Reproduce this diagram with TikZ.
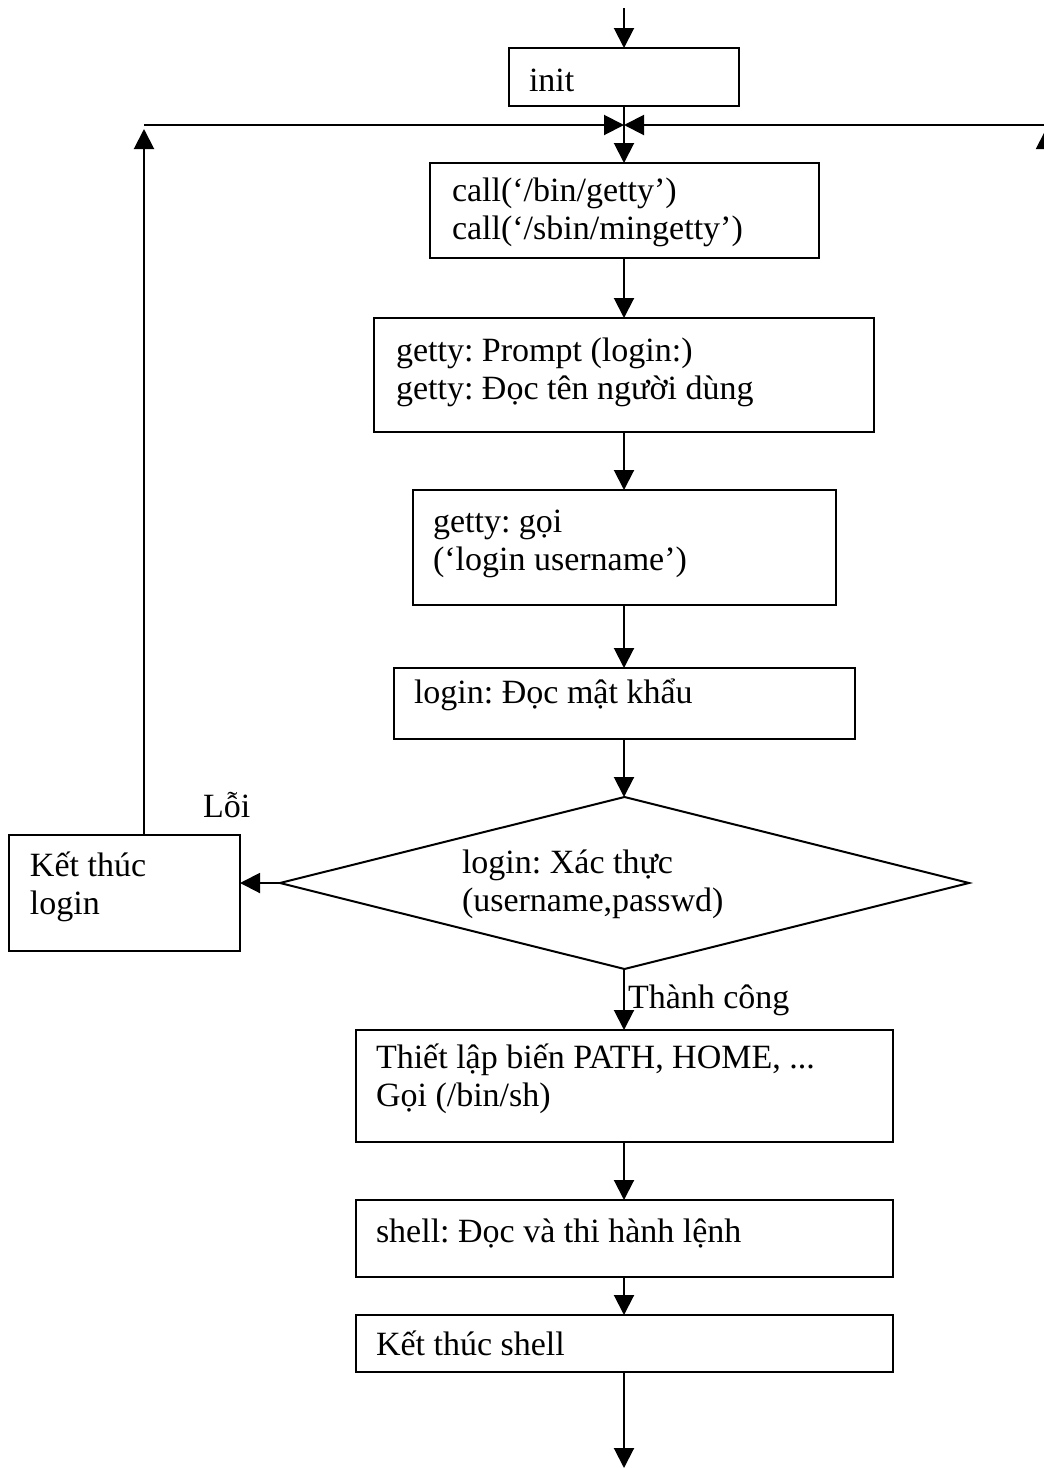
\documentclass[tikz,border=0pt]{standalone}
\usepackage{fontspec}
\setmainfont{Liberation Serif}
\frenchspacing
\usetikzlibrary{arrows.meta,shapes.geometric}
\begin{document}
\begin{tikzpicture}[x=1pt,y=-1pt,
  box/.style={draw, line width=2pt, rectangle, inner sep=0pt, outer sep=0pt},
  lbl/.style={anchor=base west, inner sep=0pt, outer sep=0pt, font=\fontsize{34}{38}\selectfont\frenchspacing},
  conn/.style={line width=2pt, -{Triangle[length=20pt,width=20pt]}}]
\useasboundingbox (0,0) rectangle (1044,1468);
\clip (0,0) rectangle (1044,1468);

% boxes
\node[box, minimum width=230pt, minimum height=58pt]  (init)   at (624,77)     {};
\node[box, minimum width=389pt, minimum height=95pt]  (call)   at (624,210.5)  {};
\node[box, minimum width=500pt, minimum height=114pt] (getty)  at (624,375)    {};
\node[box, minimum width=423pt, minimum height=115pt] (goi)    at (624,547.5)  {};
\node[box, minimum width=461pt, minimum height=71pt]  (passwd) at (624.5,703.5){};
\node[draw, diamond, line width=2pt, minimum width=689pt, minimum height=172pt, inner sep=0pt, outer sep=0pt] (auth) at (624.5,883) {};
\node[box, minimum width=231pt, minimum height=116pt] (klogin) at (124.5,893)  {};
\node[box, minimum width=537pt, minimum height=112pt] (setpath) at (624,1086)  {};
\node[box, minimum width=537pt, minimum height=77pt]  (shell)  at (624,1238.5) {};
\node[box, minimum width=537pt, minimum height=57pt]  (kshell) at (624,1343.5) {};

% texts
\node[lbl] (tinit) at (529,91) {init};
\node[lbl] (tcall1) at (452,201) {call(‘/bin/getty’)};
\node[lbl] (tcall2) at (452,239) {call(‘/sbin/mingetty’)};
\node[lbl] (tgetty1) at (396,361) {getty: Prompt (login:)};
\node[lbl] (tgetty2) at (396,399) {getty: Đọc tên người dùng};
\node[lbl] (tgoi1) at (433,532) {getty: gọi};
\node[lbl] (tgoi2) at (433,570) {(‘login username’)};
\node[lbl] (tpass) at (414,703) {login: Đọc mật khẩu};
\node[lbl] (tauth1) at (462,873) {login: Xác thực};
\node[lbl] (tauth2) at (462,911) {(username,passwd)};
\node[lbl] (tkl1) at (30,876) {Kết thúc};
\node[lbl] (tkl2) at (30,914) {login};
\node[lbl] (tloi) at (203,817) {Lỗi};
\node[lbl] (tok) at (628,1008) {Thành công};
\node[lbl] (tset1) at (376,1068) {Thiết lập biến PATH, HOME, ...};
\node[lbl] (tset2) at (376,1106) {Gọi (/bin/sh)};
\node[lbl] (tshell) at (376,1242) {shell: Đọc và thi hành lệnh};
\node[lbl] (tks) at (376,1355) {Kết thúc shell};

% coordinates
\coordinate (top) at (624,8);
\coordinate (jn) at (624,125);
\coordinate (lc) at (144,125);
\coordinate (rc) at (1046,125);
\coordinate (lup) at (144,129);
\coordinate (rup) at (1046,129);
\coordinate (rdown) at (1046,400);
\coordinate (bend) at (624,1468);

% connectors
\draw[conn] (top) -- (init.north);
\draw[conn] (init.south) -- (call.north);
\draw[conn] (lc) -- (jn);
\draw[conn] (rc) -- (jn);
\draw[conn] (call.south) -- (getty.north);
\draw[conn] (getty.south) -- (goi.north);
\draw[conn] (goi.south) -- (passwd.north -| goi.south);
\draw[conn] (passwd.south -| goi.south) -- (auth.north -| goi.south);
\draw[conn] (auth.west) -- (klogin.east |- auth.west);
\draw[conn] (lup |- klogin.north) -- (lup);
\draw[conn] (rdown) -- (rup);
\draw[conn] (auth.south -| goi.south) -- (setpath.north);
\draw[conn] (setpath.south) -- (shell.north);
\draw[conn] (shell.south) -- (kshell.north);
\draw[conn] (kshell.south) -- (bend);
\end{tikzpicture}
\end{document}
